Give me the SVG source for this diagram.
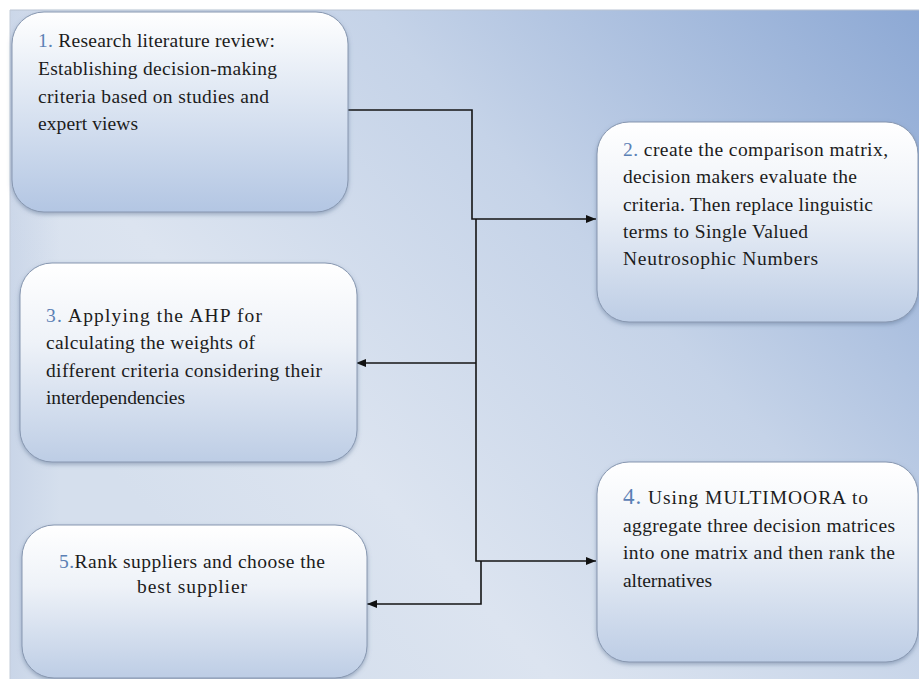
<svg xmlns="http://www.w3.org/2000/svg" width="919" height="679" viewBox="0 0 919 679">
<defs>
<linearGradient id="bg" x1="919" y1="0" x2="250" y2="620" gradientUnits="userSpaceOnUse">
<stop offset="0" stop-color="#8ca8d4"/>
<stop offset="0.45" stop-color="#c5d3e8"/>
<stop offset="0.8" stop-color="#dce4f0"/>
<stop offset="1" stop-color="#d5dfed"/>
</linearGradient>
<linearGradient id="bgl" x1="0" y1="0" x2="1" y2="0">
<stop offset="0" stop-color="#b3c3de" stop-opacity="0.35"/>
<stop offset="1" stop-color="#b3c3de" stop-opacity="0"/>
</linearGradient>
<linearGradient id="box" x1="0" y1="0" x2="0" y2="1">
<stop offset="0" stop-color="#ffffff"/>
<stop offset="0.4" stop-color="#eef2f8"/>
<stop offset="1" stop-color="#bdcde5"/>
</linearGradient>
<linearGradient id="box1" x1="0" y1="0" x2="0" y2="1">
<stop offset="0" stop-color="#ffffff"/>
<stop offset="0.35" stop-color="#e4ebf5"/>
<stop offset="1" stop-color="#b3c6e3"/>
</linearGradient>
<filter id="sh" x="-5%" y="-5%" width="110%" height="115%">
<feDropShadow dx="0" dy="2" stdDeviation="2" flood-color="#5a6f90" flood-opacity="0.5"/>
</filter>
<marker id="arr" viewBox="0 0 10 8" refX="10" refY="4" markerWidth="10" markerHeight="8" markerUnits="userSpaceOnUse" orient="auto">
<path d="M0,0 L10,4 L0,8 Z" fill="#111"/>
</marker>
<style>
.b{stroke:#8797b0;stroke-width:1;filter:url(#sh)}
.t{font-family:"Liberation Serif","Times New Roman",serif;font-size:19.5px;fill:#1c1c1c}
.n{fill:#5b80b5}
.c{fill:none;stroke:#151515;stroke-width:1.6}
</style>
</defs>
<rect x="0" y="0" width="919" height="679" fill="#ffffff"/>
<rect x="10" y="10" width="909" height="669" fill="url(#bg)"/>
<rect x="10" y="10" width="50" height="669" fill="url(#bgl)"/>
<line x1="10" y1="10" x2="919" y2="10" stroke="#b9c3d2" stroke-width="1"/>
<line x1="10" y1="10" x2="10" y2="679" stroke="#c3ccd9" stroke-width="1"/>

<g id="connectors">
<path class="c" d="M348,110 H472 V219 H596" marker-end="url(#arr)"/>
<path class="c" d="M476,219 V561 H596" marker-end="url(#arr)"/>
<path class="c" d="M476,363 H356" marker-end="url(#arr)"/>
<path class="c" d="M481,561 V604 H367" marker-end="url(#arr)"/>
</g>

<g id="node1">
<rect class="b" x="12" y="12" width="336" height="200" rx="32" fill="url(#box1)"/>
<text class="t" x="38" y="47" textLength="237"><tspan class="n">1.</tspan> Research literature review:</text>
<text class="t" x="38" y="75" textLength="239">Establishing decision-making</text>
<text class="t" x="38" y="103" textLength="231">criteria based on studies and</text>
<text class="t" x="38" y="130" textLength="100">expert views</text>
</g>

<g id="node2">
<rect class="b" x="597" y="122" width="321" height="200" rx="32" fill="url(#box)"/>
<text class="t" x="623" y="156" textLength="265"><tspan class="n">2.</tspan> create the comparison matrix,</text>
<text class="t" x="623" y="183" textLength="234">decision makers evaluate the</text>
<text class="t" x="623" y="211" textLength="250">criteria. Then replace linguistic</text>
<text class="t" x="623" y="238" textLength="185">terms to Single Valued</text>
<text class="t" x="623" y="265" textLength="195">Neutrosophic Numbers</text>
</g>

<g id="node3">
<rect class="b" x="20" y="263" width="337" height="199" rx="32" fill="url(#box)"/>
<text class="t" x="46" y="322" textLength="216"><tspan class="n">3.</tspan>  Applying the AHP for</text>
<text class="t" x="46" y="349" textLength="209">calculating the weights of</text>
<text class="t" x="46" y="377" textLength="276">different criteria considering their</text>
<text class="t" x="46" y="404" textLength="139">interdependencies</text>
</g>

<g id="node4">
<rect class="b" x="597" y="462" width="321" height="200" rx="32" fill="url(#box)"/>
<text class="t" x="623" y="504" textLength="245"><tspan class="n" font-size="23">4.</tspan> Using MULTIMOORA to</text>
<text class="t" x="623" y="532" textLength="272">aggregate three decision matrices</text>
<text class="t" x="623" y="559" textLength="272">into one matrix and then rank the</text>
<text class="t" x="623" y="587" textLength="89">alternatives</text>
</g>

<g id="node5">
<rect class="b" x="22" y="525" width="345" height="153" rx="32" fill="url(#box)"/>
<text class="t" x="192" y="568" text-anchor="middle" textLength="266"><tspan class="n">5.</tspan>Rank suppliers and choose the</text>
<text class="t" x="192" y="593" text-anchor="middle" textLength="110">best supplier</text>
</g>
</svg>
